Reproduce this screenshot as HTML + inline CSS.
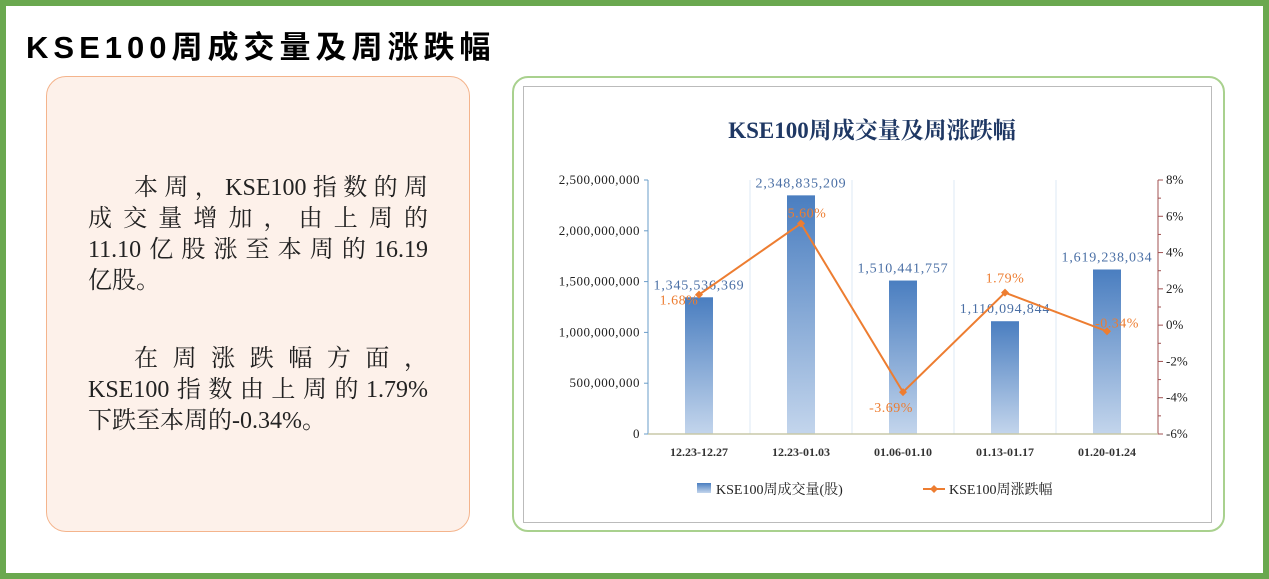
<!DOCTYPE html>
<html><head><meta charset="utf-8"><style>
body{margin:0;width:1269px;height:579px;background:#fff;position:relative;overflow:hidden;font-family:"Liberation Serif","Noto Serif CJK SC",serif}
.frame{position:absolute;left:0;top:0;width:1257px;height:567px;border:6px solid #6aa84f}
.title{position:absolute;left:26px;top:22px;font:bold 31px "Liberation Sans","Noto Sans CJK SC",sans-serif;color:#000;letter-spacing:5px}
.note{position:absolute;left:46px;top:76px;width:424px;height:456px;background:#fdf1ea;border:1.5px solid #f4b48c;border-radius:20px;box-sizing:border-box}
.txt{position:absolute;left:88px;width:340px;font-size:24px;line-height:31px;color:#222}
.txt div{text-align:justify;text-align-last:justify;white-space:nowrap}
.txt div.l{text-align-last:left}
.cbox{position:absolute;left:512px;top:76px;width:713px;height:456px;border:2px solid #a9d18e;border-radius:16px;box-sizing:border-box}
.inner{position:absolute;left:523px;top:86px;width:689px;height:437px;border:1.5px solid #bbb;box-sizing:border-box;background:#fff}
</style></head><body>
<div class="frame"></div>
<div class="title">KSE100周成交量及周涨跌幅</div>
<div class="note"></div>
<div class="txt" style="top:173px">
<div style="padding-left:46px">本周，KSE100指数的周</div>
<div>成交量增加，由上周的</div>
<div>11.10亿股涨至本周的16.19</div>
<div class="l">亿股。</div></div>
<div class="txt" style="top:344px">
<div style="padding-left:46px">在周涨跌幅方面，</div>
<div>KSE100指数由上周的1.79%</div>
<div class="l">下跌至本周的-0.34%。</div></div>
<div class="cbox"></div>
<div class="inner"></div>
<svg id="chart" width="1269" height="579" style="position:absolute;left:0;top:0">
<defs><linearGradient id="bg" x1="0" y1="0" x2="0" y2="1"><stop offset="0" stop-color="#4a7ec0"/><stop offset="1" stop-color="#c3d5ec"/></linearGradient></defs>
<text x="872" y="138" text-anchor="middle" font-size="23" font-weight="bold" fill="#1f3864" font-family="Liberation Serif,Noto Serif CJK SC,serif">KSE100周成交量及周涨跌幅</text>
<g id="g"></g>
</svg>
<script>
const categories=["12.23-12.27","12.23-01.03","01.06-01.10","01.13-01.17","01.20-01.24"];
const volume=[1345536369,2348835209,1510441757,1110094844,1619238034];
const volumeLabels=["1,345,536,369","2,348,835,209","1,510,441,757","1,110,094,844","1,619,238,034"];
const change=[1.68,5.60,-3.69,1.79,-0.34];
const changeLabels=["1.68%","5.60%","-3.69%","1.79%","-0.34%"];
const leftTicks=[0,500000000,1000000000,1500000000,2000000000,2500000000];
const leftTickLabels=["0","500,000,000","1,000,000,000","1,500,000,000","2,000,000,000","2,500,000,000"];
const rightTicks=[-6,-4,-2,0,2,4,6,8];
const ns="http://www.w3.org/2000/svg",g=document.getElementById('g');
const X0=648,X1=1158,Y0=434,Y1=180,bw=(X1-X0)/categories.length;
const yl=v=>Y0-(v/2500000000)*(Y0-Y1);
const yr=v=>Y0-((v+6)/14)*(Y0-Y1);
const xc=i=>X0+bw*(i+0.5);
function el(t,a,txt){const e=document.createElementNS(ns,t);for(const k in a)e.setAttribute(k,a[k]);if(txt!=null)e.textContent=txt;g.appendChild(e);return e;}
const F="Liberation Serif,Noto Serif CJK SC,serif";
for(let i=1;i<categories.length;i++){const e=el('line',{x1:X0+bw*i,x2:X0+bw*i,y1:Y1,y2:Y0,stroke:'#ddeaf5'});
}
leftTicks.forEach((v,i)=>{const t=el('text',{x:640,y:yl(v)+4,'text-anchor':'end','font-size':13,'letter-spacing':0.5,fill:'#222','font-family':F},leftTickLabels[i]);

el('line',{x1:644,x2:648,y1:yl(v),y2:yl(v),stroke:'#6a9cc8'});});
rightTicks.forEach((v,i)=>{const t=el('text',{x:1166,y:yr(v)+4,'font-size':13,fill:'#222','font-family':F},v+'%');

el('line',{x1:1158,x2:1163,y1:yr(v),y2:yr(v),stroke:'#a05050'});
if(i<rightTicks.length-1)el('line',{x1:1158,x2:1161,y1:yr(v+1),y2:yr(v+1),stroke:'#a05050'});});
let a=el('line',{x1:X0,x2:X0,y1:Y1,y2:Y0,stroke:'#6a9cc8'});
a=el('line',{x1:X1,x2:X1,y1:Y1,y2:Y0,stroke:'#a05050'});
volume.forEach((v,i)=>{const b=el('rect',{x:xc(i)-14,y:yl(v),width:28,height:Y0-yl(v),fill:'url(#bg)'});

const t=el('text',{x:xc(i),y:yl(v)-8,'text-anchor':'middle','font-size':14,'letter-spacing':0.8,fill:'#4a6fa5','font-family':F},volumeLabels[i]);

const c=el('text',{x:xc(i),y:Y0+22,'text-anchor':'middle','font-size':12,'font-weight':'bold',fill:'#333','font-family':F},categories[i]);
});
a=el('line',{x1:X0,x2:X1,y1:Y0,y2:Y0,stroke:'#c8c8a8','stroke-width':1.5});
const pl=el('polyline',{points:change.map((v,i)=>xc(i)+','+yr(v)).join(' '),fill:'none',stroke:'#ed7d31','stroke-width':2});

const off=[[-20,10],[6,-6],[-12,20],[0,-10],[10,-4]];
change.forEach((v,i)=>{const p=el('path',{d:`M${xc(i)},${yr(v)-4}l4,4l-4,4l-4,-4z`,fill:'#ed7d31'});

const t=el('text',{x:xc(i)+off[i][0],y:yr(v)+off[i][1],'text-anchor':'middle','font-size':14,'letter-spacing':0.5,fill:'#ed7d31','font-family':F},changeLabels[i]);
});
a=el('rect',{x:697,y:483,width:14,height:10,fill:'url(#bg)'});
a=el('text',{x:716,y:494,'font-size':14,fill:'#222','font-family':F},'KSE100周成交量(股)');
a=el('line',{x1:923,x2:945,y1:489,y2:489,stroke:'#ed7d31','stroke-width':2});
el('path',{d:'M934,485l4,4l-4,4l-4,-4z',fill:'#ed7d31'});
a=el('text',{x:949,y:494,'font-size':14,fill:'#222','font-family':F},'KSE100周涨跌幅');
</script>
</body></html>
